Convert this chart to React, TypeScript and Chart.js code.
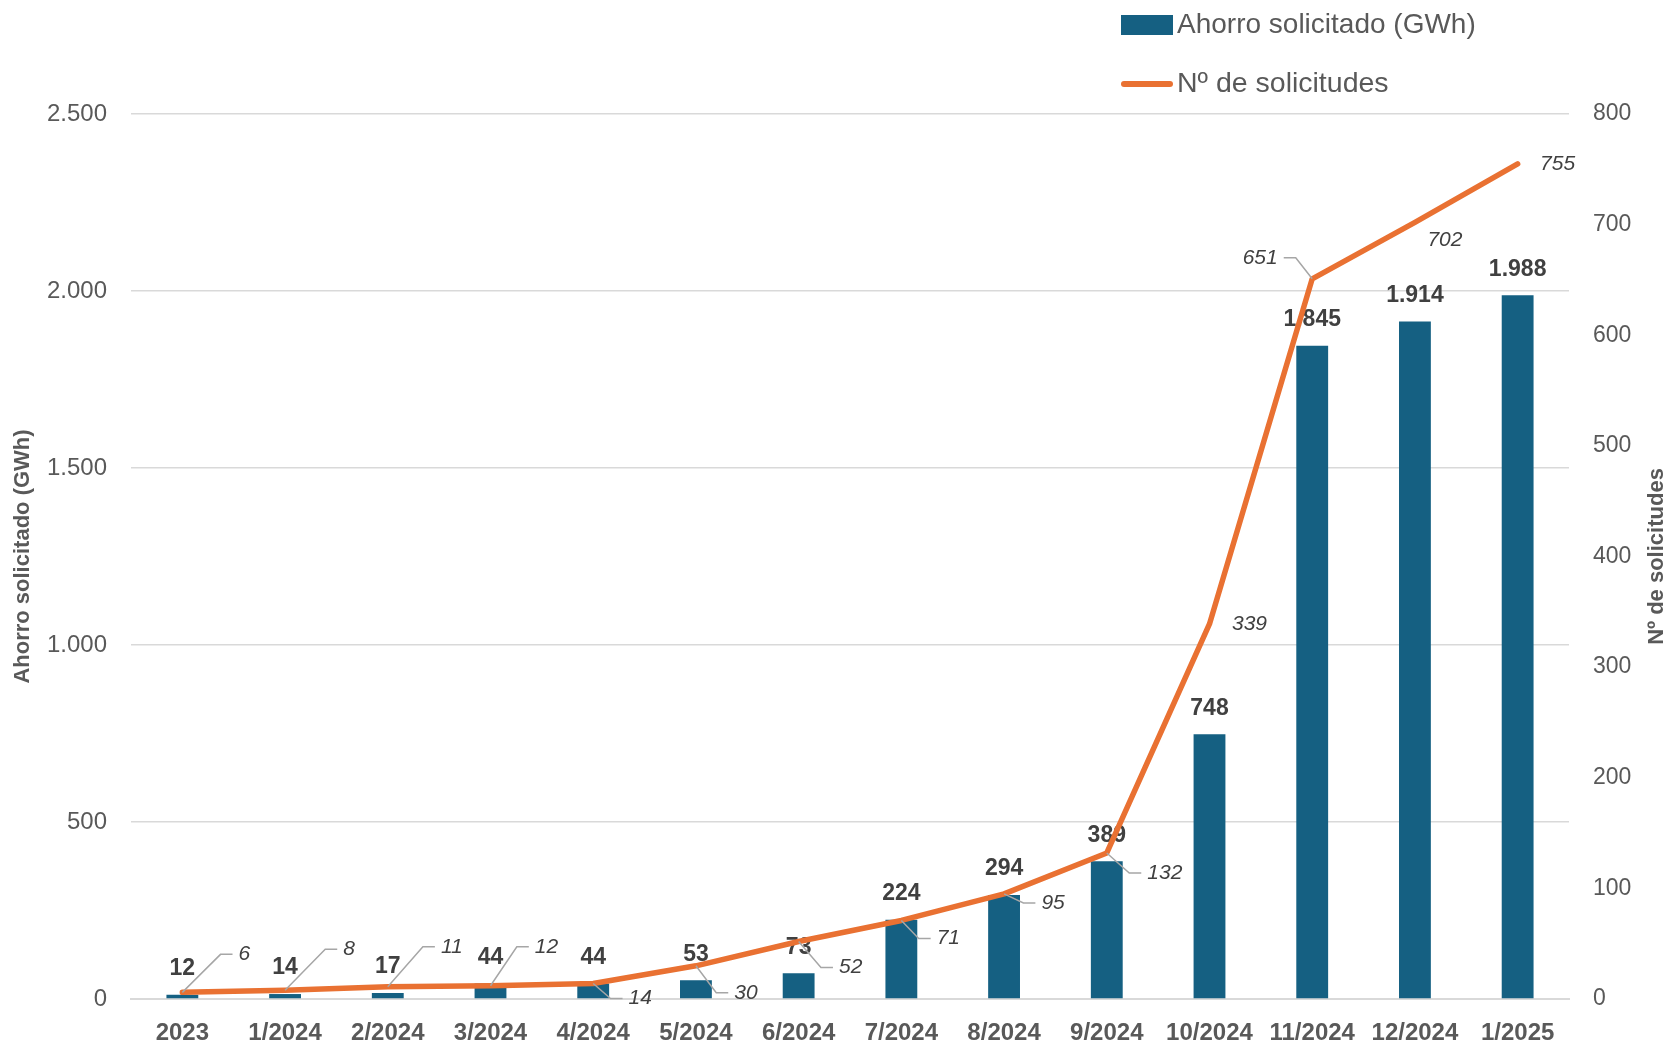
import React, { useEffect, useRef } from 'react';
import { Chart, registerables } from 'chart.js';

Chart.register(...registerables);

// ---- Data ----
const categories = [
  '2023', '1/2024', '2/2024', '3/2024', '4/2024', '5/2024', '6/2024',
  '7/2024', '8/2024', '9/2024', '10/2024', '11/2024', '12/2024', '1/2025',
];
const ahorroGWh = [12, 14, 17, 44, 44, 53, 73, 224, 294, 389, 748, 1845, 1914, 1988];
const numSolicitudes = [6, 8, 11, 12, 14, 30, 52, 71, 95, 132, 339, 651, 702, 755];
const leftTicks = [0, 500, 1000, 1500, 2000, 2500];
const rightTicks = [0, 100, 200, 300, 400, 500, 600, 700, 800];
const seriesNames = ['Ahorro solicitado (GWh)', 'Nº de solicitudes'];
const axisTitles = ['Ahorro solicitado (GWh)', 'Nº de solicitudes'];

// ---- Styling ----
const BAR_COLOR = '#156082';
const LINE_COLOR = '#E97132';
const GRID_COLOR = '#D9D9D9';
const TICK_COLOR = '#595959';
const LABEL_COLOR = '#404040';
const FONT = "'Liberation Sans', Arial, sans-serif";

// label placement for line values (offset from the point, leader line flag)
const LINE_LABEL_LAYOUT = [
  { dx: 62, dy: -38, leader: true },
  { dx: 64, dy: -41, leader: true },
  { dx: 64, dy: -40, leader: true },
  { dx: 56, dy: -39, leader: true },
  { dx: 47, dy: 15, leader: true },
  { dx: 50, dy: 27, leader: true },
  { dx: 52, dy: 26, leader: true },
  { dx: 47, dy: 18, leader: true },
  { dx: 49, dy: 9, leader: true },
  { dx: 58, dy: 20, leader: true },
  { dx: 40, dy: 0, leader: false },
  { dx: -52, dy: -21, leader: true },
  { dx: 30, dy: 18, leader: false },
  { dx: 40, dy: 0, leader: false },
];

const fmt = (n: number) => String(n).replace(/\B(?=(\d{3})+(?!\d))/g, '.');

const barLabelPlugin = {
  id: 'barLabels',
  afterDatasetDraw(chart: any, args: any) {
    const ds = chart.data.datasets[args.index];
    if (ds.type !== 'bar') return;
    const ctx = chart.ctx;
    ctx.save();
    ctx.font = `bold 23px ${FONT}`;
    ctx.fillStyle = LABEL_COLOR;
    ctx.textAlign = 'center';
    ctx.textBaseline = 'middle';
    args.meta.data.forEach((el: any, i: number) => {
      ctx.fillText(fmt(ds.data[i]), el.x, el.y - 26);
    });
    ctx.restore();
  },
};

const lineLabelPlugin = {
  id: 'lineLabels',
  afterDatasetsDraw(chart: any) {
    const idx = chart.data.datasets.findIndex((d: any) => d.type === 'line');
    if (idx < 0) return;
    const ds = chart.data.datasets[idx];
    const meta = chart.getDatasetMeta(idx);
    const ctx = chart.ctx;
    ctx.save();
    ctx.font = `italic 21px ${FONT}`;
    ctx.textAlign = 'center';
    ctx.textBaseline = 'middle';
    meta.data.forEach((el: any, i: number) => {
      const lay = LINE_LABEL_LAYOUT[i];
      const text = fmt(ds.data[i]);
      const cx = el.x + lay.dx;
      const cy = el.y + lay.dy;
      const w = ctx.measureText(text).width;
      if (lay.leader) {
        let elbow: number, hEnd: number;
        if (lay.dx >= 0) {
          const left = cx - w / 2;
          hEnd = left - 6;
          elbow = left - 18;
        } else {
          const right = cx + w / 2;
          hEnd = right + 6;
          elbow = right + 18;
        }
        ctx.beginPath();
        ctx.strokeStyle = '#A6A6A6';
        ctx.lineWidth = 1.5;
        ctx.moveTo(el.x, el.y);
        ctx.lineTo(elbow, cy);
        ctx.lineTo(hEnd, cy);
        ctx.stroke();
      }
      ctx.fillStyle = LABEL_COLOR;
      ctx.fillText(text, cx, cy);
    });
    ctx.restore();
  },
};

const legendPlugin = {
  id: 'customLegend',
  afterDraw(chart: any) {
    const ctx = chart.ctx;
    ctx.save();
    ctx.font = `28px ${FONT}`;
    ctx.textAlign = 'left';
    ctx.textBaseline = 'middle';
    // bar entry
    ctx.fillStyle = BAR_COLOR;
    ctx.fillRect(1121, 15, 52, 20);
    ctx.fillStyle = TICK_COLOR;
    ctx.fillText(seriesNames[0], 1177, 25);
    // line entry
    ctx.beginPath();
    ctx.strokeStyle = LINE_COLOR;
    ctx.lineWidth = 6;
    ctx.lineCap = 'round';
    ctx.moveTo(1124, 84);
    ctx.lineTo(1170, 84);
    ctx.stroke();
    ctx.font = `28.5px ${FONT}`;
    ctx.fillText(seriesNames[1], 1177, 84);
    ctx.restore();
  },
};

const rightTitlePlugin = {
  id: 'rightTitle',
  afterDraw(chart: any) {
    const ctx = chart.ctx;
    const area = chart.chartArea;
    ctx.save();
    ctx.font = `bold 22px ${FONT}`;
    ctx.fillStyle = TICK_COLOR;
    ctx.textAlign = 'center';
    ctx.textBaseline = 'middle';
    ctx.translate(chart.width - 13, (area.top + area.bottom) / 2);
    ctx.rotate(-Math.PI / 2);
    ctx.fillText(axisTitles[1], 0, 0);
    ctx.restore();
  },
};

export default function App() {
  const canvasRef = useRef<HTMLCanvasElement | null>(null);

  useEffect(() => {
    if (!canvasRef.current) return;
    const chart = new Chart(canvasRef.current, {
      type: 'bar',
      data: {
        labels: categories,
        datasets: [
          {
            type: 'line',
            label: seriesNames[1],
            data: numSolicitudes,
            yAxisID: 'y1',
            borderColor: LINE_COLOR,
            backgroundColor: LINE_COLOR,
            borderWidth: 5.5,
            pointRadius: 0,
            tension: 0,
            borderCapStyle: 'round',
            borderJoinStyle: 'round',
            order: 0,
          } as any,
          {
            type: 'bar',
            label: seriesNames[0],
            data: ahorroGWh,
            yAxisID: 'y',
            backgroundColor: BAR_COLOR,
            barPercentage: 0.31,
            categoryPercentage: 1,
            order: 1,
          } as any,
        ],
      },
      options: {
        responsive: false,
        animation: false,
        events: [],
        layout: { padding: { top: 114, left: 0, right: 0, bottom: 0 } },
        plugins: {
          legend: { display: false },
          tooltip: { enabled: false },
        },
        scales: {
          x: {
            grid: { display: false, drawTicks: false },
            border: { display: true, color: GRID_COLOR, width: 2 },
            ticks: {
              color: TICK_COLOR,
              font: { family: FONT, size: 24, weight: 'bold' },
              padding: 20,
              maxRotation: 0,
              autoSkip: false,
            },
            afterFit(scale: any) { scale.height = 45; },
          },
          y: {
            position: 'left',
            min: leftTicks[0],
            max: leftTicks[leftTicks.length - 1],
            grid: { color: GRID_COLOR, lineWidth: 1.5, drawTicks: false },
            border: { display: false },
            ticks: {
              stepSize: leftTicks[1] - leftTicks[0],
              color: TICK_COLOR,
              font: { family: FONT, size: 24 },
              padding: 24,
              callback: (v: any) => fmt(Number(v)),
            },
            title: {
              display: true,
              text: axisTitles[0],
              color: TICK_COLOR,
              font: { family: FONT, size: 22, weight: 'bold' },
              padding: { top: 10, bottom: 0 },
            },
            afterFit(scale: any) { scale.width = 131; },
          },
          y1: {
            position: 'right',
            min: rightTicks[0],
            max: rightTicks[rightTicks.length - 1],
            grid: { display: false, drawTicks: false },
            border: { display: false },
            ticks: {
              stepSize: rightTicks[1] - rightTicks[0],
              color: TICK_COLOR,
              font: { family: FONT, size: 23 },
              padding: 24,
              callback: (v: any) => fmt(Number(v)),
            },
            afterFit(scale: any) { scale.width = 101; },
          },
        },
      } as any,
      plugins: [barLabelPlugin, lineLabelPlugin, legendPlugin, rightTitlePlugin],
    });
    return () => chart.destroy();
  }, []);

  return (
    <div style={{ position: 'absolute', left: 0, top: 0, width: 1670, height: 1044, background: '#fff' }}>
      <canvas ref={canvasRef} width={1670} height={1044} style={{ display: 'block', width: 1670, height: 1044 }} />
    </div>
  );
}
